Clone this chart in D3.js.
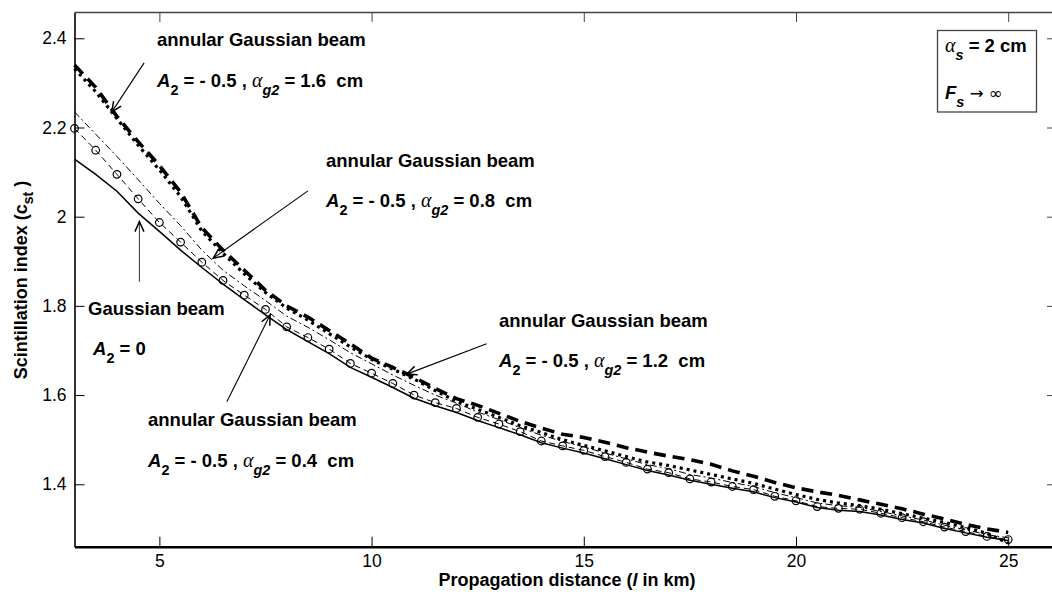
<!DOCTYPE html>
<html>
<head>
<meta charset="utf-8">
<script src="https://cdn.jsdelivr.net/npm/d3@7"></script>
<style>
  body { margin: 0; background: #fff; }
  text { font-family: "Liberation Sans", Arial, sans-serif; white-space: pre; }
</style>
</head>
<body>
<script>
const width = 1052;
const height = 592;

// propagation distance (km)
const distance = [3, 3.5, 4, 4.5, 5, 5.5, 6, 6.5, 7, 7.5, 8, 8.5, 9, 9.5, 10, 10.5, 11, 11.5, 12, 12.5,
  13, 13.5, 14, 14.5, 15, 15.5, 16, 16.5, 17, 17.5, 18, 18.5, 19, 19.5, 20, 20.5, 21, 21.5, 22, 22.5,
  23, 23.5, 24, 24.5, 25];

// scintillation index for each beam
const gaussian = [2.129, 2.095, 2.057, 2.008, 1.967, 1.925, 1.886, 1.849, 1.814, 1.780, 1.747, 1.720, 1.693, 1.662, 1.640,
  1.617, 1.593, 1.576, 1.561, 1.543, 1.527, 1.511, 1.493, 1.481, 1.470, 1.457, 1.444, 1.431, 1.421, 1.409,
  1.400, 1.391, 1.383, 1.370, 1.360, 1.348, 1.342, 1.339, 1.331, 1.321, 1.313, 1.301, 1.291, 1.281, 1.274];
const annular04 = [2.198, 2.149, 2.095, 2.040, 1.987, 1.943, 1.898, 1.857, 1.824, 1.792, 1.753, 1.729, 1.703, 1.671, 1.649,
  1.626, 1.600, 1.583, 1.570, 1.550, 1.535, 1.518, 1.497, 1.486, 1.476, 1.462, 1.449, 1.434, 1.426, 1.412,
  1.405, 1.395, 1.388, 1.373, 1.363, 1.350, 1.346, 1.344, 1.335, 1.325, 1.316, 1.304, 1.294, 1.283, 1.276];
const annular08 = [2.235, 2.185, 2.135, 2.083, 2.030, 1.980, 1.925, 1.880, 1.845, 1.812, 1.777, 1.752, 1.724, 1.695, 1.670,
  1.645, 1.622, 1.600, 1.582, 1.562, 1.545, 1.527, 1.510, 1.496, 1.484, 1.470, 1.457, 1.444, 1.435, 1.422,
  1.414, 1.404, 1.395, 1.381, 1.370, 1.358, 1.352, 1.348, 1.339, 1.329, 1.320, 1.308, 1.298, 1.287, 1.280];
const annular12 = [2.332, 2.280, 2.220, 2.160, 2.105, 2.045, 1.968, 1.918, 1.872, 1.830, 1.795, 1.768, 1.738, 1.708, 1.680,
  1.658, 1.636, 1.610, 1.586, 1.568, 1.550, 1.531, 1.516, 1.500, 1.487, 1.475, 1.462, 1.450, 1.442, 1.432,
  1.422, 1.412, 1.402, 1.389, 1.377, 1.366, 1.358, 1.352, 1.344, 1.334, 1.324, 1.314, 1.303, 1.290, 1.268];
const annular16 = [2.340, 2.290, 2.225, 2.168, 2.115, 2.055, 1.975, 1.925, 1.880, 1.835, 1.800, 1.775, 1.745, 1.715, 1.683,
  1.662, 1.640, 1.615, 1.592, 1.577, 1.559, 1.541, 1.526, 1.512, 1.505, 1.494, 1.482, 1.472, 1.463, 1.455,
  1.445, 1.430, 1.418, 1.404, 1.392, 1.383, 1.375, 1.365, 1.355, 1.345, 1.333, 1.322, 1.310, 1.300, 1.292];

const xTicks = [5, 10, 15, 20, 25];
const yTicks = [1.4, 1.6, 1.8, 2, 2.2, 2.4];

const series = [
  { values: gaussian, width: 1.5, dash: null },
  { values: annular04, width: 1, dash: "6,4", markers: true },
  { values: annular08, width: 1, dash: "7,3,2,3" },
  { values: annular12, width: 3.2, dash: "3,4" },
  { values: annular16, width: 3.6, dash: "12,7" }
];

const plot = { left: 74.5, right: 1057, top: 12, bottom: 546.7 };

const x = d3.scaleLinear().domain([3, 26.15]).range([plot.left, plot.right]);
const y = d3.scaleLinear().domain([1.26, 2.459]).range([plot.bottom, plot.top]);

const svg = d3.select("body").append("svg")
  .attr("width", width)
  .attr("height", height);

svg.append("defs").append("marker")
  .attr("id", "arrow")
  .attr("markerUnits", "userSpaceOnUse")
  .attr("markerWidth", 14).attr("markerHeight", 12)
  .attr("viewBox", "-1 -6 12 12")
  .attr("refX", 10).attr("refY", 0)
  .attr("orient", "auto")
  .append("path")
  .attr("d", "M0,-4.5L10,0L0,4.5")
  .attr("fill", "none")
  .attr("stroke", "#000")
  .attr("stroke-width", 1.5);

// axes, ticks pointing inward
const tickFont = 17.5;
svg.append("g")
  .attr("transform", `translate(0,${plot.bottom})`)
  .call(d3.axisBottom(x).tickValues(xTicks).tickSizeInner(-10).tickSizeOuter(0).tickPadding(8))
  .call(g => g.select(".domain").attr("stroke-width", 2.5))
  .call(g => g.selectAll("text").attr("font-size", tickFont).attr("font-family", "Liberation Sans"));

svg.append("g")
  .attr("transform", `translate(${plot.left},0)`)
  .call(d3.axisLeft(y).tickValues(yTicks).tickSizeInner(-10).tickSizeOuter(0).tickPadding(8)
    .tickFormat(d3.format("")))
  .call(g => g.select(".domain").attr("stroke-width", 1.6))
  .call(g => g.selectAll("text").attr("font-size", tickFont).attr("font-family", "Liberation Sans"));

svg.append("g")
  .attr("transform", `translate(0,${plot.top})`)
  .call(d3.axisTop(x).tickValues(xTicks).tickSizeInner(-10).tickSizeOuter(0).tickFormat(""))
  .call(g => g.select(".domain").attr("stroke", "#444").attr("stroke-width", 1.3))
  .call(g => g.selectAll("line").attr("stroke", "#444"));

svg.append("g")
  .attr("transform", `translate(${plot.right},0)`)
  .call(d3.axisRight(y).tickValues(yTicks).tickSizeInner(-10).tickSizeOuter(0).tickFormat(""))
  .call(g => g.select(".domain").attr("stroke", "#444"))
  .call(g => g.selectAll("line").attr("stroke", "#444"));

// curves
const line = d3.line()
  .x((d, i) => x(distance[i]))
  .y(d => y(d));

series.forEach(s => {
  svg.append("path")
    .datum(s.values)
    .attr("d", line)
    .attr("fill", "none")
    .attr("stroke", "#000")
    .attr("stroke-width", s.width)
    .attr("stroke-dasharray", s.dash);
  if (s.markers) {
    svg.append("g").selectAll("circle")
      .data(s.values)
      .join("circle")
      .attr("cx", (d, i) => x(distance[i]))
      .attr("cy", d => y(d))
      .attr("r", 3.8)
      .attr("fill", "none")
      .attr("stroke", "#000")
      .attr("stroke-width", 1.2);
  }
});

// rich text helper: bold text with italic, greek and subscript parts
function richText(px, py, parts, size) {
  const t = svg.append("text")
    .attr("x", px).attr("y", py)
    .attr("font-size", size)
    .attr("font-weight", "bold");
  let shift = 0;
  parts.forEach(p => {
    const s = t.append("tspan").text(p.t);
    const target = p.sub ? size * 0.42 : 0;
    if (target !== shift) { s.attr("dy", target - shift); shift = target; }
    if (p.sub) s.attr("font-size", size * 0.78);
    if (p.it) s.attr("font-style", "italic");
    if (p.greek) s.attr("font-family", "Liberation Serif").attr("font-weight", "normal").attr("font-size", size * 1.08);
    if (p.normal) s.attr("font-family", "DejaVu Sans").attr("font-weight", "normal").attr("font-size", size * 0.9);
  });
  return t;
}

const annFont = 18.5;
function paramLine(val) {
  return [
    { t: "A", it: true }, { t: "2", sub: true }, { t: " = - 0.5 , " },
    { t: "\u03b1", greek: true, it: true }, { t: "g2", sub: true, it: true },
    { t: " = " + val + "  cm" }
  ];
}

richText(157, 46, [{ t: "annular Gaussian beam" }], annFont);
richText(157, 87, paramLine("1.6"), annFont);
richText(326, 167, [{ t: "annular Gaussian beam" }], annFont);
richText(326, 207, paramLine("0.8"), annFont);
richText(499, 327, [{ t: "annular Gaussian beam" }], annFont);
richText(499, 367, paramLine("1.2"), annFont);
richText(88, 315, [{ t: "Gaussian beam" }], annFont);
richText(93, 355, [{ t: "A", it: true }, { t: "2", sub: true }, { t: " = 0" }], annFont);
richText(148, 426, [{ t: "annular Gaussian beam" }], annFont);
richText(148, 467, paramLine("0.4"), annFont);

// arrows (tail -> tip, data coordinates)
const arrows = [
  [[4.64, 2.345], [3.88, 2.235]],
  [[8.50, 2.058], [6.27, 1.907]],
  [[12.71, 1.715], [10.83, 1.647]],
  [[4.53, 1.854], [4.53, 1.989]],
  [[6.59, 1.585], [7.61, 1.780]]
];
svg.append("g").selectAll("line")
  .data(arrows)
  .join("line")
  .attr("x1", d => x(d[0][0])).attr("y1", d => y(d[0][1]))
  .attr("x2", d => x(d[1][0])).attr("y2", d => y(d[1][1]))
  .attr("stroke", (d, i) => i === 3 ? "#444" : "#000")
  .attr("stroke-width", 1.1)
  .attr("marker-end", "url(#arrow)");

// parameter box
svg.append("rect")
  .attr("x", 937.5).attr("y", 30.5)
  .attr("width", 99).attr("height", 81.5)
  .attr("fill", "#fff")
  .attr("stroke", "#444")
  .attr("stroke-width", 1.3);
richText(945, 52, [{ t: "\u03b1", greek: true, it: true }, { t: "s", sub: true, it: true }, { t: " = 2 cm" }], annFont);
richText(945, 99, [{ t: "F", it: true }, { t: "s", sub: true, it: true }, { t: " \u2192 \u221e", normal: true }], annFont);

// axis titles
const xTitle = svg.append("text")
  .attr("x", 567).attr("y", 586)
  .attr("text-anchor", "middle")
  .attr("font-size", 18)
  .attr("font-weight", "bold");
xTitle.append("tspan").text("Propagation distance (");
xTitle.append("tspan").attr("font-style", "italic").text("l");
xTitle.append("tspan").text(" in km)");

const yTitle = svg.append("text")
  .attr("transform", "translate(27,280) rotate(-90)")
  .attr("text-anchor", "middle")
  .attr("font-size", 18)
  .attr("font-weight", "bold");
yTitle.append("tspan").text("Scintillation index (c");
yTitle.append("tspan").attr("dy", 6).attr("font-size", 14).text("st");
yTitle.append("tspan").attr("dy", -6).text(" )");
</script>
</body>
</html>
